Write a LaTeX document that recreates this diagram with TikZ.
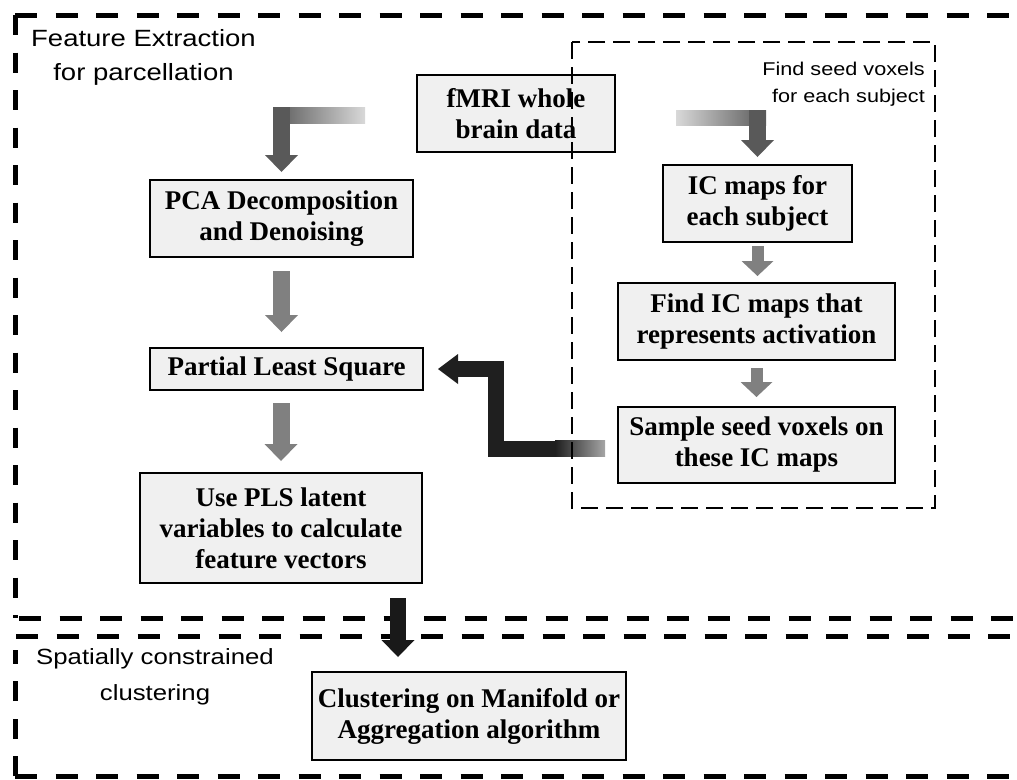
\documentclass[tikz,border=0pt]{standalone}
\usepackage{fontspec}
\setmainfont{Liberation Serif}
\setsansfont{Liberation Sans}[FakeStretch=1.17]
\usetikzlibrary{arrows.meta,calc}

\tikzset{
  procbox/.style={draw, line width=2pt, fill=black!6, inner sep=0pt, align=center,
    font=\fontsize{27}{31}\selectfont\bfseries},
  secttag/.style={inner sep=0pt, align=center, font=\sffamily\fontsize{23.5}{34}\selectfont},
  seedtag/.style={inner sep=0pt, align=right, font=\sffamily\fontsize{18.5}{27}\selectfont},
  framedash/.style={line width=5pt, dash pattern=on 22pt off 18.5pt},
  framedashv/.style={line width=5pt, dash pattern=on 20pt off 17.5pt},
  seedframe/.style={line width=1.8pt, dash pattern=on 17pt off 8pt},
  fat/.style={line width=17pt, -{Triangle[width=33pt,length=17pt,line width=0pt]}},
  slim/.style={line width=12pt, -{Triangle[width=32pt,length=15pt,line width=0pt]}},
}

\begin{document}
\begin{tikzpicture}[x=1pt,y=-1pt]
  \useasboundingbox (0,0) rectangle (1017,779);
  \clip (0,0) rectangle (1017,779);

  % Outer frames
  \draw[framedash] (15,15) -- (1030,15);
  \draw[framedashv] (15,15) -- (15,618);
  \draw[framedash] (19,618) -- (1030,618);
  \draw[framedash] (16,636) -- (1030,636);
  \draw[framedashv] (15,776) -- (15,650);
  \draw[framedash] (15,776) -- (1030,776);

  % Section labels
  \node[secttag] (fe) at (143.5,57) {Feature Extraction\\for parcellation};
  \node[secttag, font=\sffamily\fontsize{22}{36}\selectfont] (sc) at (155,677) {Spatially constrained\\clustering};
  \node[seedtag, anchor=east] (fs) at (925,84) {Find seed voxels\\for each subject};

  % Boxes
  \node[procbox, minimum width=198pt, minimum height=77pt] (fmri) at (516,113.5) {fMRI whole\\brain data};
  \node[procbox, minimum width=263pt, minimum height=77pt] (pca) at (281.5,218.5) {PCA Decomposition\\and Denoising};
  \node[procbox, minimum width=273pt, minimum height=42pt] (pls) at (286.5,369) {Partial Least Square};
  \node[procbox, minimum width=282pt, minimum height=110pt] (use) at (281,528) {Use PLS latent\\variables to calculate\\feature vectors};
  \node[procbox, minimum width=189pt, minimum height=77pt] (ic) at (757.5,203.5) {IC maps for\\each subject};
  \node[procbox, minimum width=277pt, minimum height=77pt] (find) at (756.5,321.5) {Find IC maps that\\represents activation};
  \node[procbox, minimum width=277pt, minimum height=76pt] (sample) at (756.5,445) {Sample seed voxels on\\these IC maps};
  \node[procbox, minimum width=314pt, minimum height=88pt] (clust) at (469,716) {Clustering on Manifold or\\Aggregation algorithm};

  % Bent arrow to the left branch
  \coordinate (lfree) at (365,115);
  \shade[left color=black!65, right color=black!15] ($(pca.north |- lfree)+(-8.5,-8)$) rectangle ($(lfree)+(0,8)$);
  \draw[fat, black!65, shorten >=7pt] ($(pca.north |- lfree)+(0,-8)$) -- (pca.north);

  % Bent arrow to the right branch
  \coordinate (rfree) at (676,117.5);
  \shade[left color=black!15, right color=black!65] ($(rfree)+(0,-7.5)$) rectangle ($(ic.north |- rfree)+(8.5,7.5)$);
  \draw[fat, black!65, shorten >=7pt] ($(ic.north |- rfree)+(0,-7.5)$) -- (ic.north);

  % Straight arrows
  \draw[fat, black!50, shorten <=13pt, shorten >=15pt] (pca.south) -- (pca.south |- pls.north);
  \draw[fat, black!50, shorten <=12pt, shorten >=11pt] (use.north |- pls.south) -- (use.north);
  \draw[slim, black!50, shorten <=3pt, shorten >=6pt] (ic.south) -- (ic.south |- find.north);
  \draw[slim, black!50, shorten <=7pt, shorten >=9pt] (find.south) -- (find.south |- sample.north);

  % Seeds back to PLS
  \coordinate (bfree) at (605,448.5);
  \draw[line width=16pt, black!88, -{Triangle[width=30pt,length=20pt,line width=0pt]}, shorten >=14pt]
    (bfree) -| ($(pls.east)+(71.5,0)$) -- (pls.east);
  \shade[left color=black!88, right color=black!35] ($(bfree)+(-50,-8)$) rectangle ($(bfree)+(0,8)$);

  % Down to clustering
  \coordinate (drop) at (398,598);
  \draw[fat, black!90, line width=16pt, shorten >=14pt] (drop) -- (drop |- clust.north);

  % Seed voxel frame
  \draw[seedframe] (572,42) rectangle (935,508);
\end{tikzpicture}
\end{document}
